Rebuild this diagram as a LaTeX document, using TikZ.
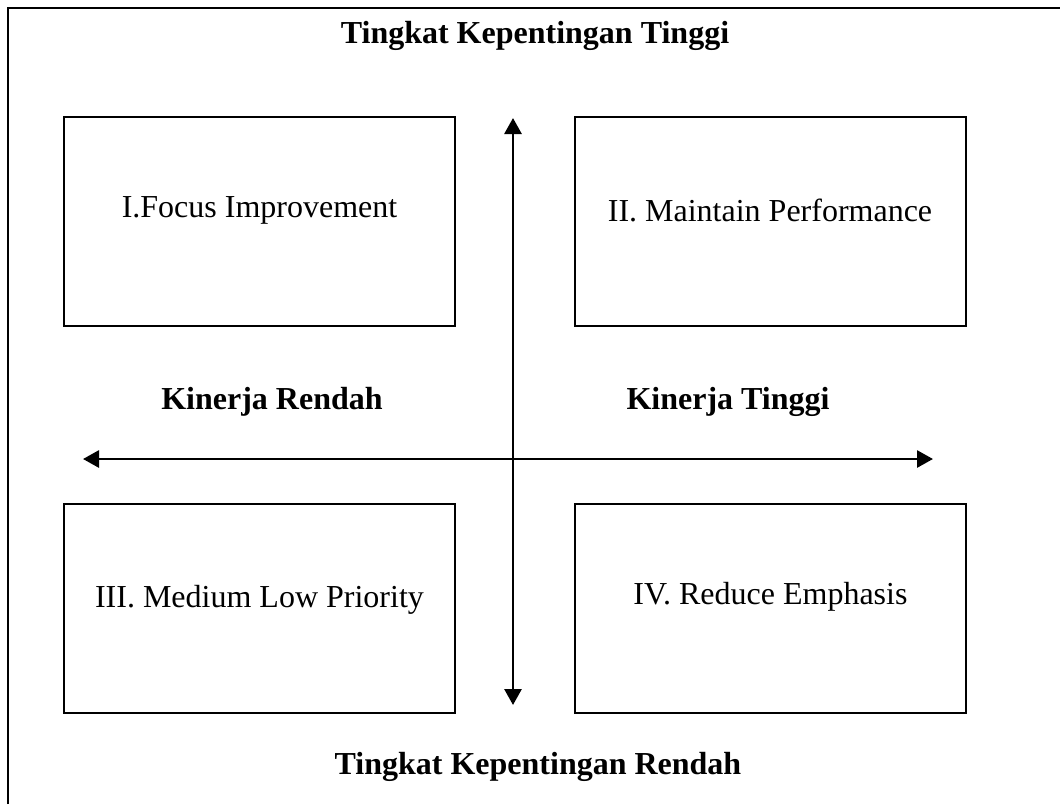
\documentclass[tikz,border=0pt]{standalone}
\usepackage{fontspec}
\setmainfont{Liberation Serif}
\usepackage{tikz}
\usetikzlibrary{positioning,arrows.meta}

\begin{document}
\begin{tikzpicture}[x=0.5pt,y=-0.5pt]
		\useasboundingbox (0,0) rectangle (1060,804);
		\begin{scope}[every node/.style={font=\fontsize{16}{19}\selectfont},
				quad/.style={draw,line width=1pt,minimum width=195.5pt,minimum height=104.5pt,inner sep=0pt},
				axis/.style={line width=1.4pt,{Triangle[length=8pt,width=8.5pt]}-{Triangle[length=8pt,width=8.5pt]}}]
			% Frame
			\coordinate (frame_tl) at (8,8);
			\coordinate (frame_tr) at (1060,8);
			\coordinate (frame_bl) at (8,804);
			\draw[line width=1pt] (frame_bl) -- (frame_tl) -- (frame_tr);

			% Quadrants
			\node[quad] (q1) at (259.5,221.5) {};
			\node[quad] (q2) at (770.5,221.5) {};
			\node[quad] (q3) at (259.5,608.5) {};
			\node[quad] (q4) at (770.5,608.5) {};

			\node (q1_text) at (259.5,210) {I.Focus Improvement};
			\node (q2_text) at (770,210) {II. Maintain Performance};
			\node (q3_text) at (259.5,600) {III. Medium Low Priority};
			\node (q4_text) at (770.5,597) {IV. Reduce Emphasis};

			% Axes
			\coordinate (up) at (513,118);
			\coordinate (down) at (513,705);
			\coordinate (west) at (83,459);
			\coordinate (east) at (933,459);
			\draw[axis] (down) -- (up);
			\draw[axis] (west) -- (east);

			% Axis labels
			\node[font=\fontsize{16}{19}\selectfont\bfseries,anchor=base] (high_imp) at (535,43) {Tingkat Kepentingan Tinggi};
			\node[font=\fontsize{16}{19}\selectfont\bfseries,anchor=base] (low_imp) at (538,774) {Tingkat Kepentingan Rendah};
			\node[font=\fontsize{16}{19}\selectfont\bfseries,anchor=base] (low_perf) at (272,409) {Kinerja Rendah};
			\node[font=\fontsize{16}{19}\selectfont\bfseries,anchor=base] (high_perf) at (728,409) {Kinerja Tinggi};
		\end{scope}
	\end{tikzpicture}
\end{document}
